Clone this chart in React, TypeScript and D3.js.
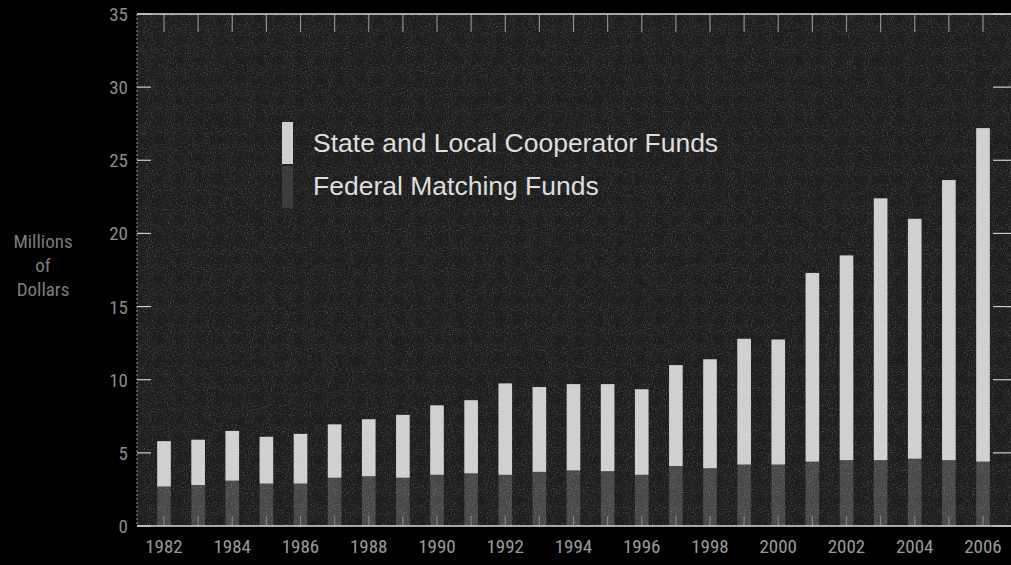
import React from 'react';
import * as d3 from 'd3';

const years = d3.range(1982, 2007).map(String);
const federalFunds = [2.7, 2.8, 3.1, 2.9, 2.9, 3.3, 3.4, 3.3, 3.5, 3.6, 3.5, 3.7, 3.8, 3.75, 3.5, 4.1, 3.95, 4.2, 4.2, 4.4, 4.5, 4.5, 4.6, 4.5, 4.4];
const stateFunds = [3.1, 3.1, 3.4, 3.2, 3.4, 3.65, 3.9, 4.3, 4.75, 5.0, 6.25, 5.8, 5.9, 5.95, 5.85, 6.9, 7.45, 8.6, 8.55, 12.9, 14.0, 17.9, 16.4, 19.15, 22.8];
const yTicks = [0, 5, 10, 15, 20, 25, 30, 35];
const xLabels = ['1982', '1984', '1986', '1988', '1990', '1992', '1994', '1996', '1998', '2000', '2002', '2004', '2006'];
const legendItems = ['State and Local Cooperator Funds', 'Federal Matching Funds'];
const yTitle = ['Millions', 'of', 'Dollars'];

const W = 1011;
const H = 565;
const plot = { left: 137, right: 1011, top: 14, bottom: 526 };

const App = () => {
  const x = d3.scalePoint<string>().domain(years).range([164, 983]);
  const y = d3.scaleLinear().domain([0, 35]).range([plot.bottom, plot.top]);
  const barW = x.step() * 0.4;

  const rows = years.map((yr, i) => ({ yr, fed: federalFunds[i], state: stateFunds[i] }));
  const stack = d3.stack<any>().keys(['fed', 'state'])(rows);
  const colors = { fed: '#474747', state: '#cfcfcf' };

  const narrow = '"Liberation Sans Narrow", "Roboto Condensed", "Liberation Sans", sans-serif';

  return (
    <svg width={W} height={H} style={{ position: 'absolute', left: 0, top: 0, background: '#000' }}>
      <defs>
        <filter id="grain" x="0" y="0" width="100%" height="100%">
          <feTurbulence type="fractalNoise" baseFrequency="0.95" numOctaves="2" seed="4" result="n" />
          <feColorMatrix in="n" type="matrix"
            values="0 0 0 0 1  0 0 0 0 1  0 0 0 0 1  0 0 0 2.2 -1.1" />
        </filter>
      </defs>
      <rect width={W} height={H} fill="#000" />
      <rect x={plot.left} y={plot.top} width={plot.right - plot.left} height={plot.bottom - plot.top} fill="#1d1d1d" />

      {stack.map((layer) => (
        <g key={layer.key} fill={colors[layer.key as 'fed' | 'state']}>
          {layer.map((d) => (
            <rect key={d.data.yr}
              x={(x(d.data.yr) as number) - barW / 2}
              y={y(d[1])}
              width={barW}
              height={y(d[0]) - y(d[1])} />
          ))}
        </g>
      ))}

      {/* grain over the plot */}
      <rect x={plot.left} y={plot.top} width={plot.right - plot.left} height={plot.bottom - plot.top}
        filter="url(#grain)" opacity={0.28} />

      {/* frame lines */}
      <g stroke="#d8d8d8" strokeWidth={1.5}>
        <line x1={plot.left} x2={plot.right} y1={plot.top} y2={plot.top} />
        <line x1={plot.left} x2={plot.right} y1={plot.bottom} y2={plot.bottom} />
        <line x1={plot.left} x2={plot.left} y1={plot.top} y2={plot.bottom} strokeOpacity={0.45} strokeDasharray="2 2" />
      </g>

      {/* year ticks */}
      <g stroke="#bbb" strokeWidth={1.2}>
        {years.map((yr) => (
          <g key={yr}>
            <line x1={x(yr)} x2={x(yr)} y1={plot.top} y2={plot.top + 18} strokeOpacity={0.7} />
            <line x1={x(yr)} x2={x(yr)} y1={plot.bottom} y2={plot.bottom - 10} strokeOpacity={0.5} />
          </g>
        ))}
      </g>

      {/* value ticks */}
      <g stroke="#ccc" strokeWidth={1.2}>
        {yTicks.map((t) => (
          <g key={t}>
            <line x1={plot.left} x2={plot.left + 14} y1={y(t)} y2={y(t)} />
            <line x1={993} x2={1011} y1={y(t)} y2={y(t)} />
          </g>
        ))}
      </g>

      <g fontFamily={narrow} fontSize={19} fill="#8a8a8a" textAnchor="end">
        {yTicks.map((t) => (
          <text key={t} x={128} y={y(t) + 7}>{t}</text>
        ))}
      </g>

      <g fontFamily={narrow} fontSize={19} fill="#9a9a9a" textAnchor="middle">
        {xLabels.map((l) => (
          <text key={l} x={x(l)} y={553}>{l}</text>
        ))}
      </g>

      <g fontFamily={narrow} fontSize={19} fill="#7c7c7c" textAnchor="middle">
        {yTitle.map((s, i) => (
          <text key={s} x={43} y={248 + i * 24}>{s}</text>
        ))}
      </g>

      {/* legend */}
      <rect x={282} y={122} width={11} height={42} fill={colors.state} />
      <rect x={282} y={166} width={11} height={42} fill={colors.fed} opacity={0.7} />
      <g fontFamily='"Liberation Sans", Arial, sans-serif' fontSize={26.5} fill="#dedede">
        {legendItems.map((s, i) => (
          <text key={s} x={313} y={152 + i * 43}>{s}</text>
        ))}
      </g>
    </svg>
  );
};

export default App;
